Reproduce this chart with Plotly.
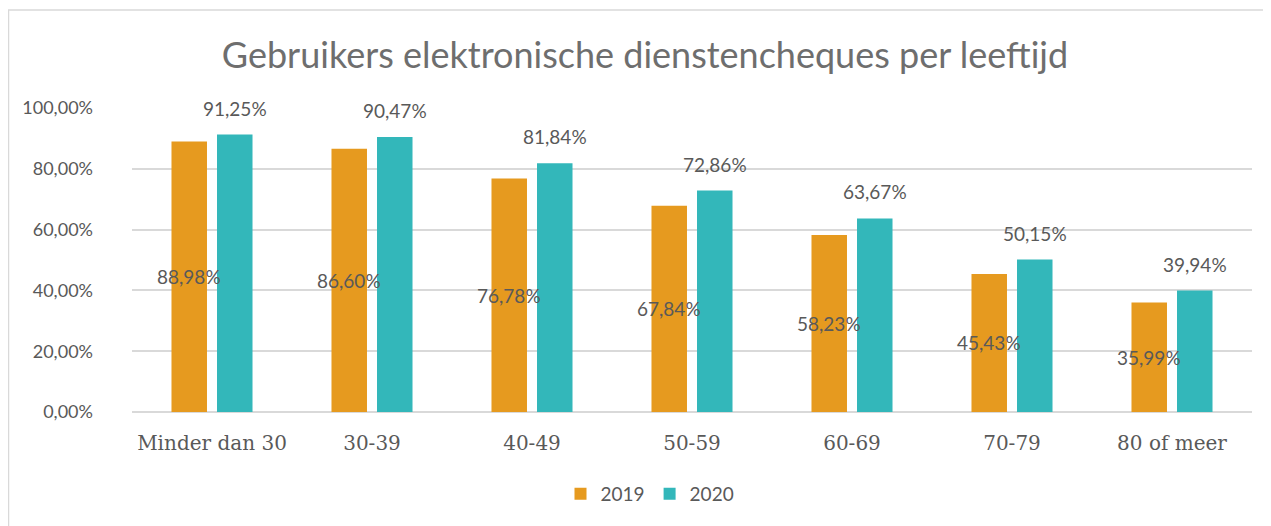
import plotly.graph_objects as go

categories = ["Minder dan 30", "30-39", "40-49", "50-59", "60-69", "70-79", "80 of meer"]
values_2019 = [88.98, 86.60, 76.78, 67.84, 58.23, 45.43, 35.99]
values_2020 = [91.25, 90.47, 81.84, 72.86, 63.67, 50.15, 39.94]
y_ticks = [0, 20, 40, 60, 80, 100]

def fmt(v):
    return f"{v:.2f}".replace(".", ",") + "%"

FONT = "Lato"
XFONT = "DejaVu Serif"
TXT = "#595959"
ORANGE = "#E69A1F"
TEAL = "#33B7BA"

# page body has an 8px margin: figure is drawn at (8, 8)
OFF = 8
W, H = 1271 - OFF, 526 - OFF
ML, MR, MT, MB = 132 - OFF, 19, 108 - OFF, 114

pw = W - ML - MR
ph = H - MT - MB

fig = go.Figure()
fig.add_trace(go.Bar(
    name="2019", x=categories, y=values_2019,
    marker=dict(color=ORANGE, line=dict(width=0)),
    hoverinfo="skip",
))
fig.add_trace(go.Bar(
    name="2020", x=categories, y=values_2020,
    marker=dict(color=TEAL, line=dict(width=0)),
    hoverinfo="skip",
))

for c, v in zip(categories, values_2019):
    fig.add_annotation(x=c, y=v / 2, xref="x", yref="y", text=fmt(v),
                       showarrow=False, xshift=-23, yanchor="middle",
                       font=dict(family=FONT, size=19, color=TXT))

for c, v in zip(categories, values_2020):
    fig.add_annotation(x=c, y=v, xref="x", yref="y", text=fmt(v),
                       showarrow=False, xshift=23, yshift=13, yanchor="bottom",
                       font=dict(family=FONT, size=19, color=TXT))

fig.add_shape(type="rect", xref="paper", yref="paper",
              x0=(0.5 - ML) / pw, x1=(W + 20 - ML) / pw,
              y0=-(MB + 20) / ph, y1=(H - MB - 2) / ph - 0,
              line=dict(color="#D9D9D9", width=1.5), layer="below")

title_cx = 645 - OFF
legend_cx = 650 - OFF

fig.update_layout(
    width=W, height=H,
    margin=dict(l=ML, r=MR, t=MT, b=MB),
    paper_bgcolor="white", plot_bgcolor="white",
    barmode="group", bargap=0.431, bargroupgap=0.22,
    title=dict(text="Gebruikers elektronische dienstencheques per leeftijd",
               x=title_cx / W, xanchor="center", y=1 - (55 - OFF) / H, yanchor="middle",
               font=dict(family=FONT, size=36, color="#6E6E6E")),
    font=dict(family=FONT, color=TXT),
    showlegend=True,
    legend=dict(orientation="h", x=(legend_cx - ML) / pw, xanchor="center",
                y=-(494 - 412) / ph, yanchor="middle",
                font=dict(family=FONT, size=19, color=TXT),
                itemwidth=30, traceorder="normal"),
    xaxis=dict(showline=False, ticks="", tickfont=dict(family=XFONT, size=20, color=TXT),
               showgrid=False, ticklabelstandoff=17, automargin=False),
    yaxis=dict(range=[0, 100], tickvals=y_ticks, ticktext=[fmt(v) for v in y_ticks],
               showgrid=True, gridcolor="#D9D9D9", gridwidth=1.5, zeroline=True,
               zerolinecolor="#D9D9D9", zerolinewidth=1.5,
               tickfont=dict(family=FONT, size=18, color=TXT), ticks="",
               ticklabelstandoff=38, automargin=False),
)

fig.write_html("out.html")
